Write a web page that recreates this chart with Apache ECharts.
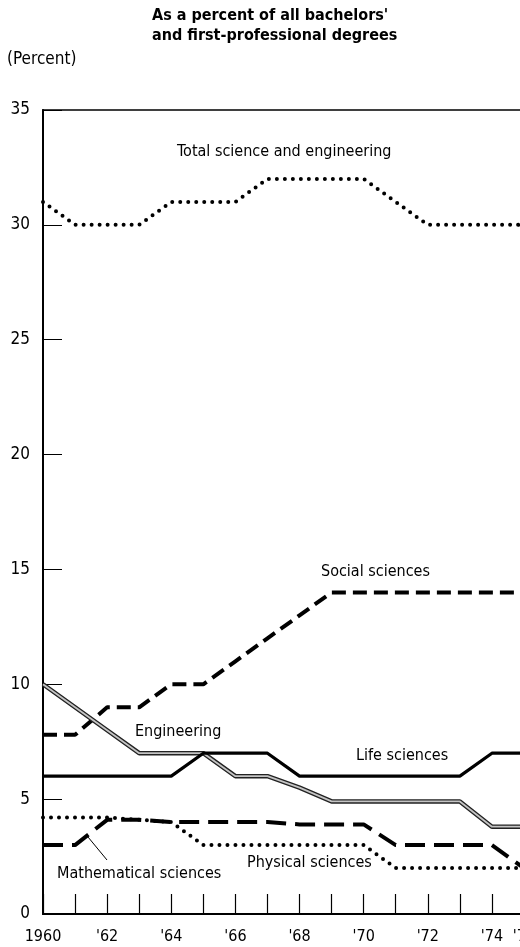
<!DOCTYPE html>
<html>
<head>
<meta charset="utf-8">
<title>Science and engineering degrees</title>
<script src="https://cdn.jsdelivr.net/npm/echarts@6/dist/echarts.min.js"></script>
<style>
  body { margin: 0; background: #fff; }
  #main { width: 520px; height: 947px; }
</style>
</head>
<body>
<div id="main"></div>
<script>
// years on the x axis
var years = [1960, 1961, 1962, 1963, 1964, 1965, 1966, 1967, 1968, 1969, 1970, 1971, 1972, 1973, 1974, 1975];

// percent of all bachelors' and first-professional degrees
var totalSE     = [31, 30, 30, 30, 31, 31, 31, 32, 32, 32, 32, 31, 30, 30, 30, 30];
var social      = [7.8, 7.8, 9, 9, 10, 10, 11, 12, 13, 14, 14, 14, 14, 14, 14, 14];
var engineering = [10, 9, 8, 7, 7, 7, 6, 6, 5.5, 4.9, 4.9, 4.9, 4.9, 4.9, 3.8, 3.8];
var life        = [6, 6, 6, 6, 6, 7, 7, 7, 6, 6, 6, 6, 6, 6, 7, 7];
var physical    = [4.2, 4.2, 4.2, 4.1, 4.0, 3, 3, 3, 3, 3, 3, 2, 2, 2, 2, 2];
var math        = [3, 3, 4.1, 4.1, 4.0, 4.0, 4.0, 4.0, 3.9, 3.9, 3.9, 3, 3, 3, 3, 2];

function pairs(vals) {
    return years.map(function (y, i) { return [y, vals[i]]; });
}

var FONT = "'Liberation Sans Narrow', 'DejaVu Sans Condensed', sans-serif";

var chart = echarts.init(document.getElementById('main'));

function dotted(vals, name) {
    return {
        name: name, type: 'line', data: pairs(vals), showSymbol: false,
        lineStyle: { color: '#000', width: 4, type: [0, 8], cap: 'round' }
    };
}

var option = {
    backgroundColor: '#fff',
    animation: false,
    grid: {
        left: 43, right: -4, top: 110, bottom: 33, outerBoundsMode: 'none',
        show: true, borderColor: '#000', borderWidth: 1.5
    },
    xAxis: {
        type: 'value', min: 1960, max: 1975, interval: 1,
        axisLine: { lineStyle: { color: '#000', width: 2 } },
        axisTick: { inside: true, length: 20, lineStyle: { color: '#000', width: 1.2 } },
        splitLine: { show: false },
        axisLabel: {
            color: '#000', fontFamily: FONT, fontSize: 16, margin: 15,
            formatter: function (v) {
                if (v === 1960) return '1960';
                if (v % 2 === 0 || v === 1975) return "'" + String(v).slice(2);
                return '';
            }
        }
    },
    yAxis: {
        type: 'value', min: 0, max: 35, interval: 5,
        axisLine: { show: true, lineStyle: { color: '#000', width: 2 } },
        axisTick: { show: true, inside: true, length: 19, lineStyle: { color: '#000', width: 1 } },
        splitLine: { show: false },
        axisLabel: { color: '#000', fontFamily: FONT, fontSize: 17, margin: 13 }
    },
    series: [
        dotted(totalSE, 'Total science and engineering'),
        {
            name: 'Social sciences', type: 'line', data: pairs(social), showSymbol: false,
            lineStyle: { color: '#000', width: 4, type: [14, 7] }
        },
        {
            name: 'Engineering edge', type: 'line', data: pairs(engineering), showSymbol: false,
            lineStyle: { color: '#222', width: 4.5 }
        },
        {
            name: 'Engineering', type: 'line', data: pairs(engineering), showSymbol: false,
            lineStyle: { color: '#c4c4c4', width: 1.8 }
        },
        {
            name: 'Life sciences', type: 'line', data: pairs(life), showSymbol: false,
            lineStyle: { color: '#000', width: 3.2 }
        },
        dotted(physical, 'Physical sciences'),
        {
            name: 'Mathematical sciences', type: 'line', data: pairs(math), showSymbol: false,
            lineStyle: { color: '#000', width: 4, type: [20, 9] }
        }
    ],
    graphic: [
        { type: 'text', left: 152, top: 6, style: {
            text: "As a percent of all bachelors'\nand first-professional degrees",
            font: "bold 16px " + FONT, fill: '#000', lineHeight: 20 } },
        { type: 'text', left: 7, top: 51, style: { text: '(Percent)', font: '17px ' + FONT, fill: '#000' } },
        { type: 'text', left: 177, top: 144, style: { text: 'Total science and engineering', font: '16px ' + FONT, fill: '#000' } },
        { type: 'text', left: 321, top: 564, style: { text: 'Social sciences', font: '16px ' + FONT, fill: '#000' } },
        { type: 'text', left: 135, top: 724, style: { text: 'Engineering', font: '16px ' + FONT, fill: '#000' } },
        { type: 'text', left: 356, top: 748, style: { text: 'Life sciences', font: '16px ' + FONT, fill: '#000' } },
        { type: 'text', left: 247, top: 855, style: { text: 'Physical sciences', font: '16px ' + FONT, fill: '#000' } },
        { type: 'text', left: 57, top: 866, style: { text: 'Mathematical sciences', font: '16px ' + FONT, fill: '#000' } },
        { type: 'line', shape: { x1: 88, y1: 837, x2: 107, y2: 860 }, style: { stroke: '#000', lineWidth: 1 } }
    ]
};

chart.setOption(option);
</script>
</body>
</html>
